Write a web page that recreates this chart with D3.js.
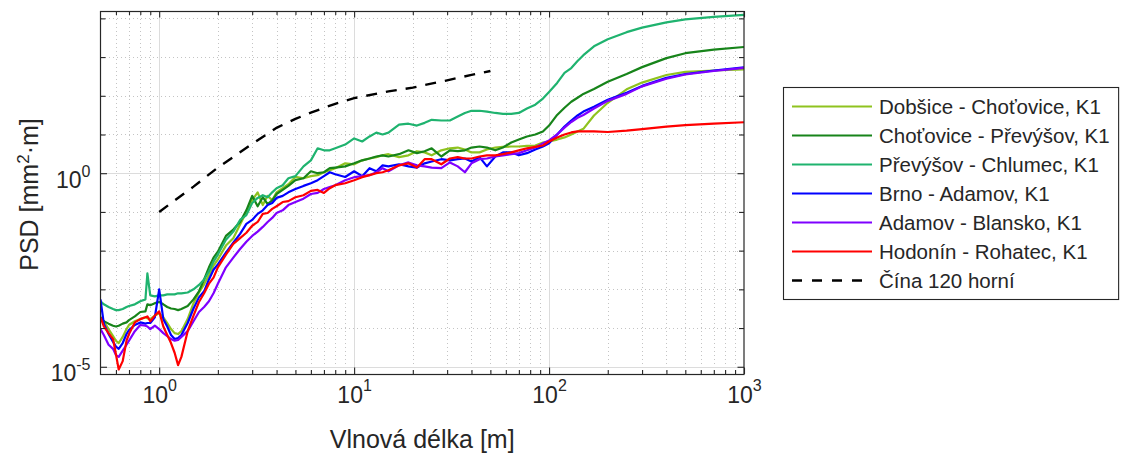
<!DOCTYPE html>
<html lang="cs">
<head>
<meta charset="utf-8">
<title>PSD – vlnová délka</title>
<script src="https://cdn.jsdelivr.net/npm/d3@7/dist/d3.min.js"></script>
<style>
  html, body { margin: 0; padding: 0; background: #fff; }
  svg { display: block; }
  text { font-family: "Liberation Sans", Arial, Helvetica, sans-serif; fill: #262626; }
</style>
</head>
<body>
<svg id="chart" width="1129" height="455"></svg>
<script>
// Wavelength grid [m] shared by the measured track sections
const wavelength = [
  0.5, 0.52, 0.55, 0.58, 0.6, 0.62, 0.65, 0.68, 0.7, 0.75,
  0.8, 0.85, 0.87, 0.9, 0.95, 1.0, 1.05, 1.1, 1.15, 1.2,
  1.25, 1.3, 1.4, 1.5, 1.6, 1.7, 1.8, 1.9, 2.0, 2.2,
  2.4, 2.6, 2.8, 3.0, 3.2, 3.4, 3.6, 3.8, 4.0, 4.3,
  4.6, 5.0, 5.5, 6, 6.5, 7, 7.5, 8, 9, 10,
  11, 12, 13, 14, 15, 17, 19, 21, 23, 25,
  28, 31, 34, 37, 40, 44, 48, 53, 58, 64,
  70, 77, 85, 93, 100, 110, 120, 130, 140, 150,
  170, 200, 250, 300, 400, 500, 700, 1000
];

// PSD [mm^2·m] per section
const dobsiceChotovice = [
  1.9e-4, 1.5e-4, 9.4e-5, 6.2e-5, 4.7e-5, 4.1e-5, 5.9e-5, 9.4e-5, 1.2e-4, 1.5e-4,
  1.7e-4, 1.9e-4, 1.8e-4, 1.7e-4, 2.1e-4, 2.4e-4, 1.9e-4, 1.35e-4, 9.4e-5, 7.4e-5,
  7.0e-5, 8.3e-5, 1.7e-4, 4.4e-4, 8.3e-4, 1.35e-3, 2.3e-3, 4.1e-3, 5.9e-3, 1.35e-2,
  2.1e-2, 4.7e-2, 0.10, 0.20, 0.32, 0.15, 0.26, 0.20, 0.32, 0.41,
  0.52, 0.8, 0.74, 0.84, 0.89, 1.06, 1.19, 1.35, 1.8, 1.7,
  2.15, 2.4, 2.6, 2.9, 3.1, 2.6, 2.9, 3.7, 3.45, 2.9,
  3.9, 4.4, 4.6, 4.1, 3.45, 3.45, 4.1, 4.6, 4.8, 4.9,
  4.9, 5.1, 5.2, 6.2, 6.6, 7.4, 8.4, 10, 12, 14,
  31, 66, 147, 219, 345, 415, 450, 480
];
const chotovicePrevysov = [
  1.9e-4, 1.5e-4, 1.3e-4, 1.15e-4, 1.1e-4, 1.15e-4, 1.3e-4, 1.4e-4, 1.6e-4, 2.0e-4,
  2.6e-4, 2.7e-4, 4.1e-4, 3.9e-4, 4.4e-4, 4.7e-4, 4.1e-4, 3.5e-4, 3.2e-4, 3.1e-4,
  2.9e-4, 3.1e-4, 3.7e-4, 5.5e-4, 8.9e-4, 1.8e-3, 3.7e-3, 6.6e-3, 9.4e-3, 2.4e-2,
  3.5e-2, 5.5e-2, 0.11, 0.26, 0.14, 0.24, 0.16, 0.20, 0.29, 0.37,
  0.47, 0.66, 0.74, 1.12, 1.0, 1.06, 1.35, 1.4, 1.5, 1.8,
  2.15, 2.4, 2.7, 2.9, 2.7, 3.1, 3.9, 3.3, 3.7, 4.4,
  2.7, 3.9, 3.7, 3.9, 4.6, 4.9, 4.6, 3.9, 4.6, 6.2,
  7.4, 8.9, 10, 12, 17, 32, 49, 70, 89, 112,
  150, 230, 365, 550, 940, 1260, 1550, 1820
];
const prevysovChlumec = [
  4.9e-4, 4.1e-4, 3.5e-4, 3.1e-4, 2.9e-4, 2.9e-4, 3.1e-4, 3.5e-4, 3.7e-4, 4.1e-4,
  4.9e-4, 5.5e-4, 2.6e-3, 7.0e-4, 6.6e-4, 7.0e-4, 7.0e-4, 7.4e-4, 7.4e-4, 7.4e-4,
  7.9e-4, 7.9e-4, 8.3e-4, 1.0e-3, 1.3e-3, 1.8e-3, 2.9e-3, 5.2e-3, 7.9e-3, 1.9e-2,
  3.1e-2, 6.2e-2, 8.3e-2, 0.17, 0.23, 0.27, 0.24, 0.32, 0.41, 0.49,
  0.74, 0.84, 1.5, 2.15, 4.4, 3.9, 3.9, 4.4, 5.5, 7.9,
  6.6, 8.9, 11.2, 10, 11.2, 18, 19, 17, 20, 24,
  23, 23, 29, 36, 41, 41, 39, 36, 34, 34,
  36, 47, 59, 85, 126, 215, 390, 520, 790, 1120,
  1900, 2900, 4400, 5750, 7900, 9400, 10900, 12300
];
const brnoAdamov = [
  5.5e-4, 1.3e-4, 7.0e-5, 4.4e-5, 3.3e-5, 2.9e-5, 4.1e-5, 7.0e-5, 8.9e-5, 1.2e-4,
  1.4e-4, 1.3e-4, 1.35e-4, 1.35e-4, 1.9e-4, 1.0e-3, 1.7e-4, 1.1e-4, 6.6e-5, 5.2e-5,
  5.5e-5, 6.6e-5, 1.35e-4, 3.2e-4, 6.2e-4, 8.9e-4, 1.8e-3, 3.2e-3, 4.4e-3, 8.9e-3,
  1.6e-2, 2.7e-2, 4.9e-2, 6.2e-2, 8.9e-2, 0.11, 0.15, 0.17, 0.23, 0.26,
  0.32, 0.39, 0.47, 0.55, 0.66, 0.84, 1.06, 0.94, 0.8, 1.12,
  0.84, 1.35, 1.12, 1.6, 1.5, 1.7, 1.5, 1.4, 1.8, 2.0,
  2.3, 2.15, 2.3, 2.4, 2.0, 2.6, 1.5, 2.7, 3.45, 3.45,
  2.9, 3.3, 4.1, 4.9, 5.9, 10, 16, 23, 31, 39,
  52, 79, 120, 180, 290, 365, 450, 540
];
const adamovBlansko = [
  9.4e-5, 6.6e-5, 3.7e-5, 2.9e-5, 2.0e-5, 1.8e-5, 2.6e-5, 3.7e-5, 4.7e-5, 8.3e-5,
  1.2e-4, 1.15e-4, 1.1e-4, 9.4e-5, 1.15e-4, 9.4e-5, 7.4e-5, 6.2e-5, 5.2e-5, 4.7e-5,
  4.9e-5, 5.9e-5, 8.3e-5, 1.5e-4, 2.6e-4, 3.5e-4, 4.9e-4, 7.9e-4, 1.4e-3, 3.7e-3,
  6.6e-3, 1.1e-2, 1.7e-2, 2.4e-2, 3.1e-2, 4.1e-2, 5.5e-2, 7.0e-2, 9.4e-2, 0.11,
  0.15, 0.18, 0.22, 0.29, 0.31, 0.39, 0.44, 0.49, 0.66, 0.79,
  0.84, 0.89, 1.06, 1.35, 1.12, 1.6, 1.9, 1.6, 1.5, 1.4,
  1.35, 1.9, 1.5, 1.06, 1.8, 2.3, 2.4, 2.7, 2.9, 3.1,
  3.3, 3.9, 4.6, 5.9, 7.0, 10, 15, 21, 27, 32,
  47, 74, 112, 175, 275, 355, 437, 525
];
const hodoninRohatec = [
  1.9e-4, 1.1e-4, 7.4e-5, 5.2e-5, 2.1e-5, 8.5e-6, 1.4e-5, 4.7e-5, 7.0e-5, 1.4e-4,
  1.7e-4, 1.9e-4, 2.0e-4, 1.5e-4, 2.1e-4, 2.7e-4, 1.1e-4, 6.6e-5, 4.1e-5, 2.3e-5,
  1.1e-5, 1.8e-5, 8.3e-5, 2.1e-4, 4.7e-4, 7.9e-4, 1.4e-3, 2.0e-3, 3.7e-3, 7.9e-3,
  1.5e-2, 2.1e-2, 2.9e-2, 4.4e-2, 5.5e-2, 8.9e-2, 9.4e-2, 0.12, 0.14, 0.18,
  0.19, 0.24, 0.27, 0.35, 0.37, 0.31, 0.41, 0.49, 0.55, 0.66,
  0.79, 0.89, 1.0, 1.06, 1.19, 1.6, 1.8, 1.4, 2.3, 2.3,
  1.7, 2.4, 2.6, 2.4, 2.4, 2.7, 2.9, 2.9, 3.1, 3.45,
  3.9, 4.4, 4.8, 5.2, 6.6, 8.4, 10, 11.3, 12, 12,
  12, 11.6, 12.6, 13.8, 16, 17.5, 19, 20.7
];

// Upper limit curve "Čína 120 horní"
const cinaWavelength = [1, 1.5, 2, 3, 4, 5, 6, 8, 10, 15, 20, 30, 40, 50];
const cinaHorni = [0.1, 0.45, 1.4, 5.7, 14.9, 25.3, 36.9, 62, 87, 130, 163, 251, 347, 437];

const seriesLabels = [
  "Dobšice - Choťovice, K1",
  "Choťovice - Převýšov, K1",
  "Převýšov - Chlumec, K1",
  "Brno - Adamov, K1",
  "Adamov - Blansko, K1",
  "Hodonín - Rohatec, K1",
  "Čína 120 horní"
];
const seriesColors = ["#8fc31f", "#17841a", "#1fb36f", "#0000ff", "#7f00ff", "#ff0000", "#000000"];

const xTickValues = [1, 10, 100, 1000];
const yTickValues = [1e-5, 1];
const xLabel = "Vlnová délka [m]";

// ---- layout ----
const plot = { left: 100.5, right: 744, top: 11, bottom: 374 };
const tickFont = 23, supFont = 16, labelFont = 25, legendFont = 20.5;

const svg = d3.select("#chart");

const x = d3.scaleLog().domain([0.5, 1000]).range([plot.left, plot.right]);
const y = d3.scaleLog().domain([6.5e-6, 1.55e4]).range([plot.bottom, plot.top]);

// minor tick positions (2..9 within each decade) and decade ticks on y
const xMinor = [];
[0.1, 1, 10, 100].forEach(base => {
  for (let k = 2; k <= 9; k++) {
    const v = +(k * base).toPrecision(6);
    if (v > 0.5 && v < 1000) xMinor.push(v);
  }
});
const yMajorExp = [-5, 0];
const yMinor = d3.range(-5, 5).filter(e => !yMajorExp.includes(e)).map(e => +("1e" + e));

// ---- grid ----
const grid = svg.append("g").attr("shape-rendering", "crispEdges");
grid.selectAll("line.xminor").data(xMinor).join("line")
  .attr("x1", d => Math.round(x(d)) + 0.5).attr("x2", d => Math.round(x(d)) + 0.5)
  .attr("y1", plot.top).attr("y2", plot.bottom)
  .attr("stroke", "#c4c4c4").attr("stroke-dasharray", "1,3");
grid.selectAll("line.yminor").data(yMinor).join("line")
  .attr("y1", d => Math.round(y(d)) + 0.5).attr("y2", d => Math.round(y(d)) + 0.5)
  .attr("x1", plot.left).attr("x2", plot.right)
  .attr("stroke", "#c4c4c4").attr("stroke-dasharray", "1,3");
grid.selectAll("line.xmajor").data(xTickValues.filter(v => v < 1000)).join("line")
  .attr("x1", d => Math.round(x(d)) + 0.5).attr("x2", d => Math.round(x(d)) + 0.5)
  .attr("y1", plot.top).attr("y2", plot.bottom)
  .attr("stroke", "#dcdcdc");
grid.selectAll("line.ymajor").data(yTickValues).join("line")
  .attr("y1", d => Math.round(y(d)) + 0.5).attr("y2", d => Math.round(y(d)) + 0.5)
  .attr("x1", plot.left).attr("x2", plot.right)
  .attr("stroke", "#dcdcdc");

// ---- data ----
svg.append("defs").append("clipPath").attr("id", "plotClip")
  .append("rect").attr("x", plot.left).attr("y", plot.top)
  .attr("width", plot.right - plot.left).attr("height", plot.bottom - plot.top);

const measured = [dobsiceChotovice, chotovicePrevysov, prevysovChlumec, brnoAdamov, adamovBlansko, hodoninRohatec];
const line = d3.line().x(d => x(d[0])).y(d => y(d[1]));

const dataLayer = svg.append("g").attr("clip-path", "url(#plotClip)");
measured.forEach((vals, i) => {
  dataLayer.append("path")
    .datum(wavelength.map((w, j) => [w, vals[j]]))
    .attr("d", line)
    .attr("fill", "none")
    .attr("stroke", seriesColors[i])
    .attr("stroke-width", 2.2)
    .attr("stroke-linejoin", "round");
});
dataLayer.append("path")
  .datum(cinaWavelength.map((w, j) => [w, cinaHorni[j]]))
  .attr("d", line)
  .attr("fill", "none")
  .attr("stroke", seriesColors[6])
  .attr("stroke-width", 2.4)
  .attr("stroke-dasharray", "11,9");

// ---- axes ----
function styleAxis(g) {
  g.select(".domain").remove();
  g.attr("font-family", null).attr("font-size", tickFont).attr("color", "#262626");
  g.selectAll("line").attr("stroke-width", 1.1);
}
function powerLabels(sel, supShift) {
  sel.each(function (d) {
    const t = d3.select(this);
    const e = Math.round(Math.log10(d));
    t.text(null);
    t.append("tspan").text("10");
    t.append("tspan").attr("dy", supShift).attr("font-size", supFont).text(e < 0 ? "-" + (-e) : String(e));
  });
}

// bottom
svg.append("g").attr("transform", `translate(0,${plot.bottom})`)
  .call(d3.axisBottom(x).tickValues(xMinor).tickSize(-4).tickFormat(""))
  .call(styleAxis).selectAll("text").remove();
const gxb = svg.append("g").attr("transform", `translate(0,${plot.bottom})`)
  .call(d3.axisBottom(x).tickValues(xTickValues).tickSize(-6.5).tickPadding(13).tickFormat(d => d))
  .call(styleAxis);
gxb.selectAll("text").call(powerLabels, -12);

// top
svg.append("g").attr("transform", `translate(0,${plot.top})`)
  .call(d3.axisTop(x).tickValues(xMinor).tickSize(-4).tickFormat(""))
  .call(styleAxis).selectAll("text").remove();
svg.append("g").attr("transform", `translate(0,${plot.top})`)
  .call(d3.axisTop(x).tickValues(xTickValues).tickSize(-6.5).tickFormat(""))
  .call(styleAxis).selectAll("text").remove();

// left
svg.append("g").attr("transform", `translate(${plot.left},0)`)
  .call(d3.axisLeft(y).tickValues(yMinor).tickSize(-5).tickFormat(""))
  .call(styleAxis).selectAll("text").remove();
const gyl = svg.append("g").attr("transform", `translate(${plot.left},0)`)
  .call(d3.axisLeft(y).tickValues(yTickValues).tickSize(-6.5).tickPadding(10).tickFormat(d => d))
  .call(styleAxis);
gyl.selectAll("text").attr("dy", "0.6em").call(powerLabels, -11);

// right
svg.append("g").attr("transform", `translate(${plot.right},0)`)
  .call(d3.axisRight(y).tickValues(yMinor).tickSize(-5).tickFormat(""))
  .call(styleAxis).selectAll("text").remove();
svg.append("g").attr("transform", `translate(${plot.right},0)`)
  .call(d3.axisRight(y).tickValues(yTickValues).tickSize(-6.5).tickFormat(""))
  .call(styleAxis).selectAll("text").remove();

// frame
svg.append("rect")
  .attr("x", plot.left).attr("y", plot.top + 0.5)
  .attr("width", plot.right - plot.left).attr("height", plot.bottom - plot.top)
  .attr("fill", "none").attr("stroke", "#262626").attr("stroke-width", 1.2);

// axis titles
svg.append("text")
  .attr("x", (plot.left + plot.right) / 2).attr("y", 448)
  .attr("text-anchor", "middle").attr("font-size", labelFont)
  .text(xLabel);
const yTitle = svg.append("text")
  .attr("transform", `translate(38,${(plot.top + plot.bottom) / 2 + 2}) rotate(-90)`)
  .attr("text-anchor", "middle").attr("font-size", labelFont);
yTitle.append("tspan").text("PSD [mm");
yTitle.append("tspan").attr("dy", -9).attr("font-size", 17).text("2");
yTitle.append("tspan").attr("dy", 9).text("·m]");

// ---- legend ----
const leg = { left: 783.5, top: 87.5, firstRow: 106.5, rowH: 29, lineX1: 792, lineX2: 872, textX: 879 };
const legend = svg.append("g");
const legBox = legend.append("rect")
  .attr("x", leg.left).attr("y", leg.top)
  .attr("fill", "#fff").attr("stroke", "#262626").attr("stroke-width", 1.1);
const rows = legend.selectAll("g.row").data(seriesLabels).join("g")
  .attr("transform", (d, i) => `translate(0,${leg.firstRow + i * leg.rowH})`);
rows.append("line")
  .attr("x1", leg.lineX1).attr("x2", leg.lineX2)
  .attr("stroke", (d, i) => seriesColors[i])
  .attr("stroke-width", (d, i) => i === 6 ? 2.4 : 2.2)
  .attr("stroke-dasharray", (d, i) => i === 6 ? "10,10" : null);
const legTexts = rows.append("text")
  .attr("x", leg.textX).attr("y", 7.2)
  .attr("font-size", legendFont)
  .text(d => d);
let maxW = 0;
legTexts.each(function () { maxW = Math.max(maxW, this.getComputedTextLength()); });
legBox.attr("width", leg.textX + maxW + 9 - leg.left)
  .attr("height", 2 * (leg.firstRow - leg.top) + (seriesLabels.length - 1) * leg.rowH);
</script>
</body>
</html>
